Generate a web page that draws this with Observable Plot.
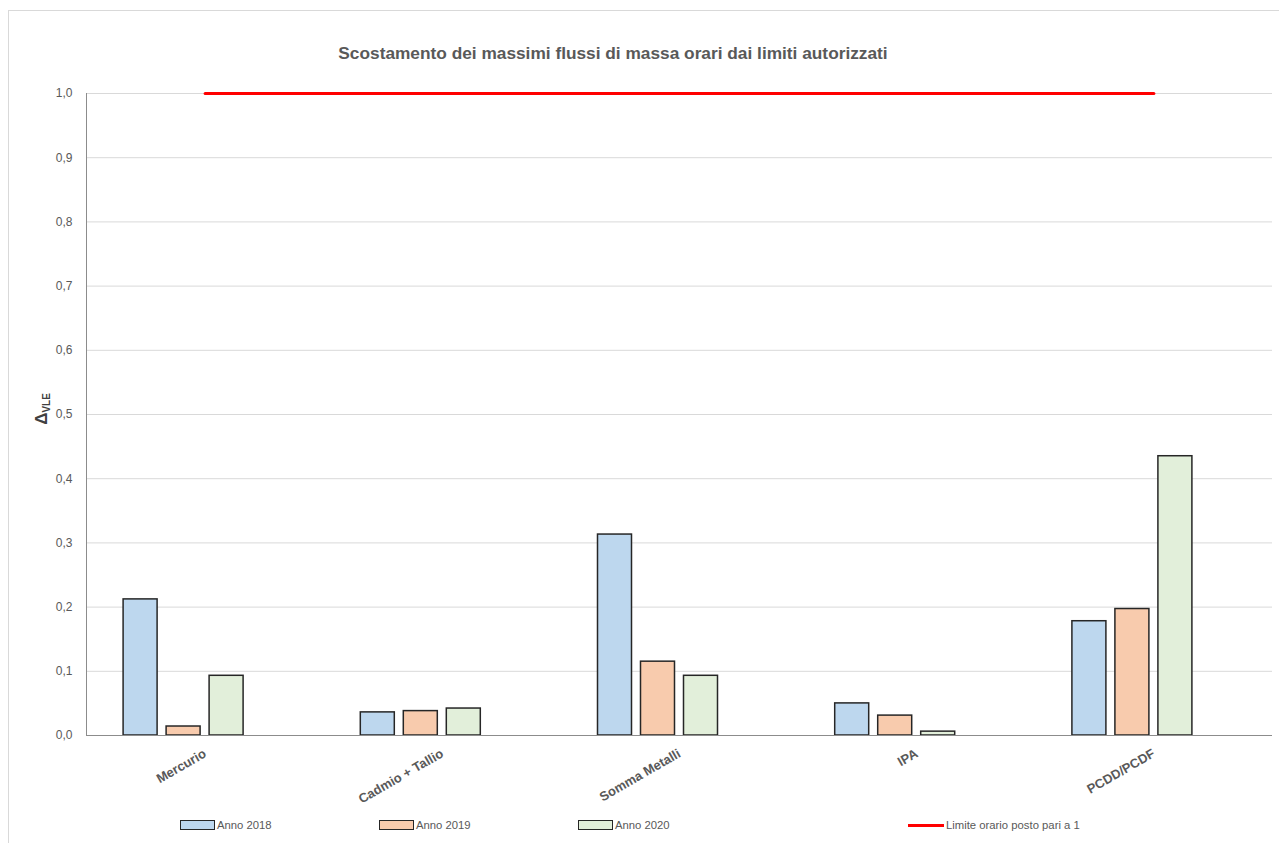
<!DOCTYPE html>
<html>
<head>
<meta charset="utf-8">
<script src="https://cdn.jsdelivr.net/npm/d3@7"></script>
<script src="https://cdn.jsdelivr.net/npm/@observablehq/plot@0.6"></script>
<style>
  body { margin: 0; background: #fff; font-family: "Liberation Sans", Arial, sans-serif; }
  #frame { position: absolute; left: 8px; top: 10px; width: 1300px; height: 900px; border: 1px solid #d9d9d9; pointer-events: none; }
  #title { position: relative; height: 75px; }
  #title span { position: absolute; left: 0; top: 43px; width: 1226px; text-align: center; font-weight: bold; font-size: 17.3px; line-height: 20px; color: #595959; }
  #legend { position: relative; height: 28px; }
  .item { position: absolute; top: 0; height: 20px; display: flex; align-items: center; font-size: 11.3px; color: #595959; }
  .sw { width: 33px; height: 8px; border: 1.3px solid #262626; margin-right: 2px; }
  .ln { width: 36px; height: 3px; background: #ff0000; margin-right: 2px; }
</style>
</head>
<body>
<div id="frame"></div>
<div id="title"><span>Scostamento dei massimi flussi di massa orari dai limiti autorizzati</span></div>
<div id="chart"></div>
<div id="legend"></div>
<script>
const categories = ["Mercurio", "Cadmio + Tallio", "Somma Metalli", "IPA", "PCDD/PCDF"];
const anno2018 = [0.212, 0.036, 0.313, 0.050, 0.178];
const anno2019 = [0.014, 0.038, 0.115, 0.031, 0.197];
const anno2020 = [0.093, 0.042, 0.093, 0.006, 0.435];
const limite = [1, 1, 1, 1, 1];
const seriesNames = ["Anno 2018", "Anno 2019", "Anno 2020"];
const seriesColors = ["#BDD7EE", "#F8CBAD", "#E2EFDA"];
const limitName = "Limite orario posto pari a 1";
const yTicks = [0, 0.1, 0.2, 0.3, 0.4, 0.5, 0.6, 0.7, 0.8, 0.9, 1.0];

const seriesValues = [anno2018, anno2019, anno2020];
const rows = categories.flatMap((c, i) =>
  seriesValues.map((arr, s) => ({cat: c, i, s, series: seriesNames[s], value: arr[i]}))
);

// group layout in category units (4 slots per category, last one empty)
const catW = 237.2;
const slot = 43 / catW;
const barW = 34 / catW;
const start = -81.5 / catW;

const chart = Plot.plot({
  width: 1279,
  height: 740,
  marginLeft: 86,
  marginRight: 7,
  marginTop: 18,
  marginBottom: 80,
  style: {background: "transparent", fontFamily: "'Liberation Sans', Arial, sans-serif"},
  x: {domain: [-0.5, categories.length - 0.5], axis: null},
  y: {domain: [0, 1], axis: null},
  color: {domain: seriesNames, range: seriesColors},
  marks: [
    Plot.gridY(yTicks, {stroke: "#d9d9d9", strokeOpacity: 1, strokeWidth: 1}),
    Plot.axisY(yTicks, {tickSize: 0, tickPadding: 14, tickFormat: d => d.toFixed(1).replace(".", ","), fontSize: 12, fill: "#595959", label: null}),
    Plot.axisX(categories.map((c, i) => i), {tickSize: 0, tickPadding: 17, tickRotate: -30, tickFormat: i => categories[i], fontWeight: "bold", fontSize: 13, fill: "#595959", label: null}),
    Plot.rectY(rows, {
      x1: d => d.i + start + d.s * slot,
      x2: d => d.i + start + d.s * slot + barW,
      y1: 0,
      y2: "value",
      fill: "series",
      stroke: "#262626",
      strokeWidth: 1.5
    }),
    Plot.ruleY([0], {stroke: "#8c8c8c", strokeWidth: 1}),
    Plot.ruleX([-0.5], {y1: 0, y2: 1, stroke: "#8c8c8c", strokeWidth: 1}),
    Plot.lineY(limite, {x: (d, i) => i, y: d => d, stroke: "#ff0000", strokeWidth: 3})
  ]
});

// y axis label: Δ with subscript VLE
const svg = d3.select(chart);
const lab = svg.append("text")
  .attr("transform", "translate(47,334) rotate(-90)")
  .attr("text-anchor", "middle")
  .attr("fill", "#404040")
  .attr("font-weight", "bold")
  .attr("font-size", 17);
lab.append("tspan").text("Δ");
lab.append("tspan").attr("font-size", 10).attr("dy", 3).text("VLE");

document.getElementById("chart").appendChild(chart);

// legend
const legendItems = [
  {label: seriesNames[0], color: seriesColors[0], left: 180},
  {label: seriesNames[1], color: seriesColors[1], left: 379},
  {label: seriesNames[2], color: seriesColors[2], left: 578},
  {label: limitName, line: true, left: 908}
];
const leg = document.getElementById("legend");
legendItems.forEach(it => {
  const d = document.createElement("div");
  d.className = "item";
  d.style.left = it.left + "px";
  const sw = document.createElement("div");
  if (it.line) { sw.className = "ln"; } else { sw.className = "sw"; sw.style.background = it.color; }
  d.appendChild(sw);
  const t = document.createElement("span");
  t.textContent = it.label;
  d.appendChild(t);
  leg.appendChild(d);
});
</script>
</body>
</html>
